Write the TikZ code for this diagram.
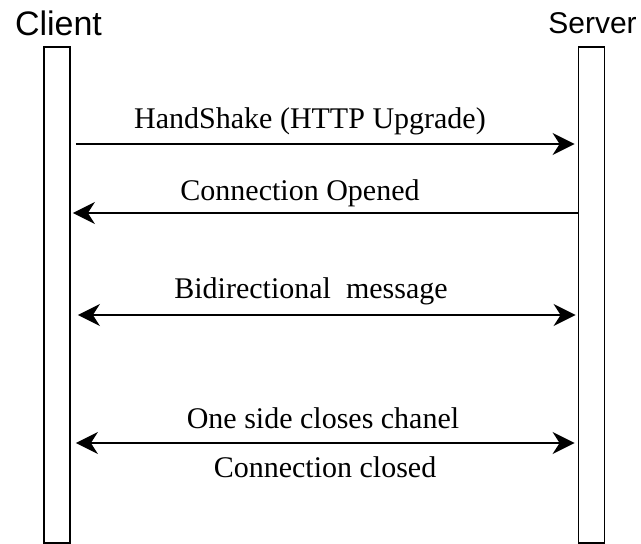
\documentclass[tikz,border=0pt]{standalone}
\usepackage{fontspec}
\setmainfont{Liberation Serif}
\newfontfamily\lsans{Liberation Sans}
\usetikzlibrary{arrows.meta}
\tikzset{
  lifebox/.style={draw, line width=1.8pt, minimum width=26pt, minimum height=496pt, inner sep=0pt, fill=white},
  actor/.style={anchor=base, inner sep=0pt, font=\lsans},
  msg/.style={anchor=base, inner sep=0pt, font=\fontsize{30}{34}\selectfont},
  arr/.style={line width=1.8pt, -{Stealth[length=22pt, width=22pt, inset=7pt]}},
  biarr/.style={line width=1.8pt, {Stealth[length=22pt, width=22pt, inset=7pt]}-{Stealth[length=22pt, width=22pt, inset=7pt]}}
}
\begin{document}
\begin{tikzpicture}[x=1pt, y=-1pt]
\useasboundingbox (0,0) rectangle (641,544);
\node[lifebox] (client) at (57,295) {};
\node[lifebox] (server) at (591.5,295) {};
\node[actor, font=\lsans\fontsize{34}{38}\selectfont] (clientlbl) at (58.5,35) {Client};
\node[actor, font=\lsans\fontsize{30}{34}\selectfont] (serverlbl) at (592.5,33) {Server};

\node[msg] (m1) at (310,128) {HandShake (HTTP Upgrade)};
\node[msg] (m2) at (300,200) {Connection Opened};
\node[msg] (m3) at (311,298) {Bidirectional\ \ message};
\node[msg] (m4) at (323,428) {One side closes chanel};
\node[msg] (m5) at (325,477) {Connection closed};

\draw[arr] ([xshift=5pt]client.east |- 0,144) -- ([xshift=-3pt]server.west |- 0,144);
\draw[arr] (server.west |- 0,213) -- ([xshift=2pt]client.east |- 0,213);
\draw[biarr] ([xshift=7pt]client.east |- 0,315) -- ([xshift=-2pt]server.west |- 0,315);
\draw[biarr] ([xshift=5pt]client.east |- 0,443) -- ([xshift=-3pt]server.west |- 0,443);
\end{tikzpicture}
\end{document}
